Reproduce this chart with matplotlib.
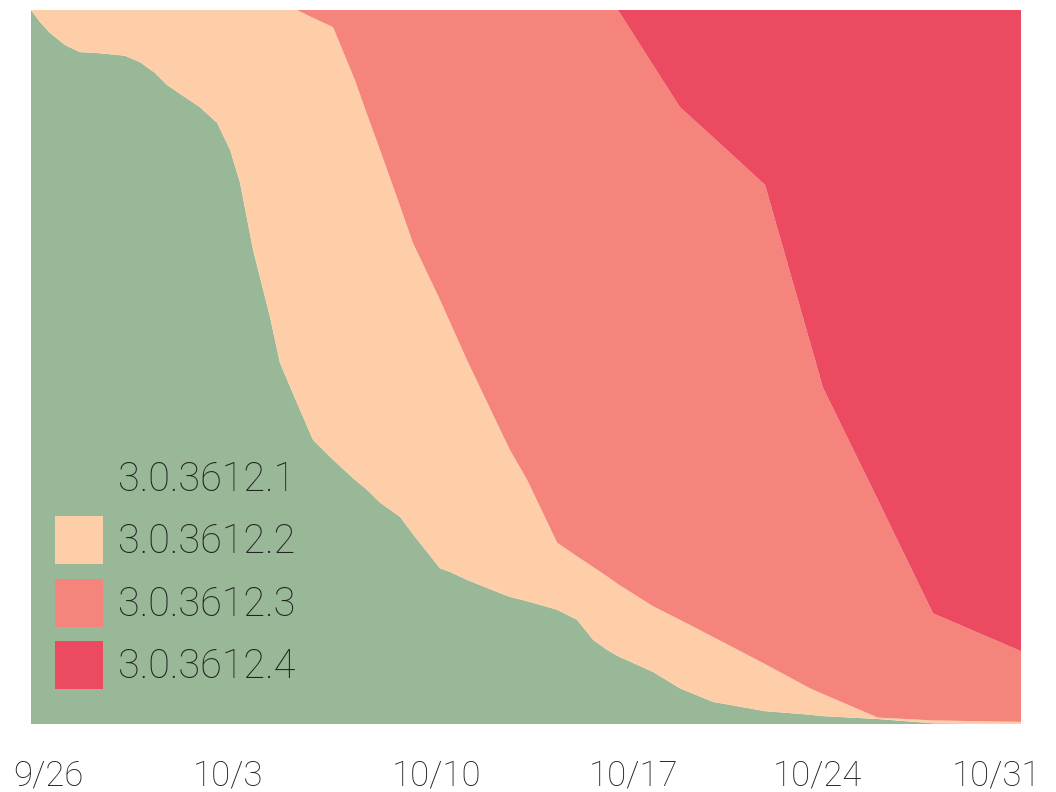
import matplotlib
matplotlib.use('Agg')
import matplotlib.pyplot as plt

# days since 9/26 (x axis runs 9/26 .. 10/31)
days = [0.0, 0.32, 0.67, 1.20, 1.73, 2.26, 2.79, 3.32, 3.85, 4.38, 4.81, 5.44,
        5.97, 6.58, 7.04, 7.39, 7.85, 8.45, 8.80, 9.40, 9.97, 10.68, 11.45, 11.88,
        12.34, 13.05, 13.50, 13.86, 14.46, 14.81, 15.41, 16.47, 16.93, 17.54, 18.60,
        19.30, 19.87, 20.36, 20.75, 21.99, 22.94, 24.11, 25.95, 27.54, 28.00, 29.94,
        31.89, 35.0]

# share of installs per version (%)
v1 = [100.0, 98.3, 96.8, 95.1, 94.1, 94.0, 93.8, 93.6, 92.7, 91.2, 89.5, 87.8,
      86.4, 84.2, 80.4, 75.8, 66.4, 57.0, 50.6, 45.0, 39.8, 37.0, 34.2, 32.8,
      31.0, 29.0, 26.6, 24.8, 21.8, 21.3, 20.2, 18.5, 17.8, 17.2, 16.0,
      14.6, 11.8, 10.4, 9.5, 7.3, 5.0, 3.1, 1.8, 1.3, 1.1, 0.7,
      0.1, 0.0]
v2 = [0.0, 1.7, 3.2, 4.9, 5.9, 6.0, 6.2, 6.4, 7.3, 8.8, 10.5, 12.2,
      13.6, 15.8, 19.6, 24.2, 33.6, 43.0, 49.4, 55.0, 59.1, 60.6, 56.0, 52.6,
      49.4, 43.5, 40.8, 39.6, 37.6, 35.0, 30.8, 23.7, 20.6, 17.0, 9.4,
      8.9, 10.2, 10.3, 10.1, 9.2, 9.6, 9.1, 6.6, 3.7, 3.1, 0.2,
      0.4, 0.3]
v3 = [0.0, 0.0, 0.0, 0.0, 0.0, 0.0, 0.0, 0.0, 0.0, 0.0, 0.0, 0.0,
      0.0, 0.0, 0.0, 0.0, 0.0, 0.0, 0.0, 0.0, 1.1, 2.4, 9.8, 14.6,
      19.6, 27.5, 32.6, 35.6, 40.6, 43.7, 49.0, 57.8, 61.6, 65.8, 74.6,
      76.5, 78.0, 79.3, 80.4, 75.8, 71.8, 70.0, 67.1, 48.5, 42.9, 30.5,
      15.0, 9.9]
v4 = [0.0, 0.0, 0.0, 0.0, 0.0, 0.0, 0.0, 0.0, 0.0, 0.0, 0.0, 0.0,
      0.0, 0.0, 0.0, 0.0, 0.0, 0.0, 0.0, 0.0, 0.0, 0.0, 0.0, 0.0,
      0.0, 0.0, 0.0, 0.0, 0.0, 0.0, 0.0, 0.0, 0.0, 0.0, 0.0,
      0.0, 0.0, 0.0, 0.0, 7.7, 13.6, 17.8, 24.5, 46.5, 52.9, 68.6,
      84.5, 89.8]

versions = ['3.0.3612.1', '3.0.3612.2', '3.0.3612.3', '3.0.3612.4']
colors = ['#99B898', '#FECEA8', '#F4847C', '#EB4A60']

tick_pos = [0.60, 6.96, 14.35, 21.32, 27.82, 34.15]
tick_labels = ['9/26', '10/3', '10/10', '10/17', '10/24', '10/31']

plt.rcParams['font.family'] = ['Roboto', 'DejaVu Sans']
plt.rcParams['font.weight'] = 'light'

fig = plt.figure(figsize=(10.56, 7.92), dpi=100)
ax = fig.add_axes([31/1056, 68/792, 990/1056, 714/792])
ax.stackplot(days, v1, v2, v3, v4, colors=colors, labels=versions, linewidth=0)
ax.set_xlim(0, 35)
ax.set_ylim(0, 100)
for s in ax.spines.values():
    s.set_visible(False)
ax.set_yticks([])
ax.set_xticks(tick_pos)
ax.set_xticklabels(tick_labels, fontsize=25, color='#222222', fontweight='light')
ax.tick_params(axis='x', length=0, pad=25)

leg = ax.legend(loc='lower left', bbox_to_anchor=(0.024, 0.049), frameon=False,
                fontsize=28.5, borderpad=0, handlelength=1.21, handleheight=1.48,
                handletextpad=0.4, labelspacing=0.37, borderaxespad=0)
for t in leg.get_texts():
    t.set_color('#222222')

fig.savefig('out.png', dpi=100)
